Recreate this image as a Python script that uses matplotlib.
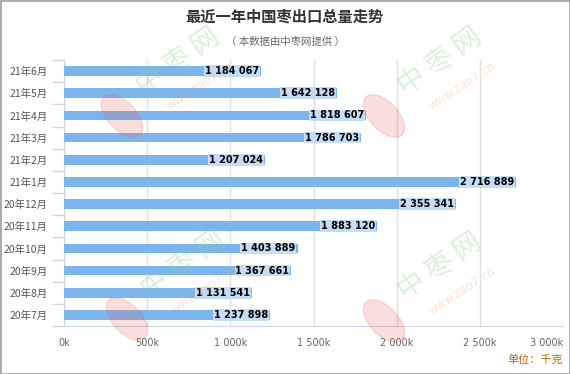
import matplotlib
matplotlib.use("Agg")
import matplotlib.pyplot as plt
from matplotlib.patches import Ellipse, Rectangle
from matplotlib.ticker import FuncFormatter

plt.rcParams['font.family'] = ['Noto Sans CJK SC', 'DejaVu Sans']

# data, top to bottom as shown
months = ["21年6月", "21年5月", "21年4月", "21年3月", "21年2月", "21年1月",
          "20年12月", "20年11月", "20年10月", "20年9月", "20年8月", "20年7月"]
export_kg = [1184067, 1642128, 1818607, 1786703, 1207024, 2716889,
             2355341, 1883120, 1403889, 1367661, 1131541, 1237898]
x_ticks = [0, 500000, 1000000, 1500000, 2000000, 2500000, 3000000]

W, H = 570, 374
fig = plt.figure(figsize=(W / 100, H / 100), dpi=100)

# watermarks (drawn first, behind everything)
for cx, cy in [(178, 62), (440, 62), (183, 265), (440, 267)]:
    fig.text(cx / W, 1 - cy / H, "中 枣 网", fontsize=20, color="#8fcf93", alpha=0.32,
             rotation=35, ha="center", va="center")
    fig.text((cx + 22) / W, 1 - (cy + 24) / H, "www.zao7.cn", fontsize=8.5,
             family="DejaVu Sans", color="#f5a06a", alpha=0.3, rotation=33,
             ha="center", va="center")
    fig.patches.append(Ellipse(((cx - 56) / W, 1 - (cy + 54) / H), 32 / W, 46 / H,
                               angle=25, transform=fig.transFigure,
                               color="#e85a5a", alpha=0.2, zorder=0))

left, right, top, bottom = 64, 563, 60, 326
ax = fig.add_axes([left / W, 1 - bottom / H, (right - left) / W, (bottom - top) / H])
ax.patch.set_alpha(0)

ypos = list(range(len(months)))
ax.barh(ypos, export_kg, height=0.44, color="#7cb5ec", zorder=3)
ax.set_xlim(0, 3000000)
ax.set_ylim(len(months) - 0.5, -0.5)

for y, v in zip(ypos, export_kg):
    ax.text(v - 12000, y, f"{v:,}".replace(",", " "), ha="right", va="center",
            fontsize=7, fontweight="bold", family="DejaVu Sans", color="#000000",
            zorder=4, bbox=dict(facecolor="#c4dcf4", edgecolor="none", pad=0.6))

ax.set_xticks(x_ticks)
ax.xaxis.set_major_formatter(FuncFormatter(lambda v, p: f"{int(v / 1000):,}k".replace(",", " ")))
ax.grid(axis="x", color="#e0e0e0", linewidth=1, zorder=1)
ax.tick_params(axis="x", length=0, pad=9, labelsize=7, labelcolor="#666666")
for lb in ax.get_xticklabels():
    lb.set_family("DejaVu Sans")
ax.get_xticklabels()[-1].set_ha("right")

ax.set_yticks(ypos)
ax.set_yticklabels(months)
ax.set_yticks([y + 0.5 for y in [-1] + ypos], minor=True)
ax.tick_params(axis="y", which="major", length=0, pad=12, labelsize=7.5, labelcolor="#555555")
ax.tick_params(axis="y", which="minor", length=9, color="#ccd6eb", width=1)

for s in ["top", "right"]:
    ax.spines[s].set_visible(False)
ax.spines["left"].set_color("#ccd6eb")
ax.spines["bottom"].set_color("#ccd6eb")

fig.text(0.5, 1 - 17 / H, "最近一年中国枣出口总量走势", ha="center", va="center",
         fontsize=11, fontweight="bold", color="#333333")
fig.text(0.5, 1 - 42 / H, "（ 本数据由中枣网提供 ）", ha="center", va="center",
         fontsize=7.5, color="#666666")
fig.text(563 / W, 1 - 360 / H, "单位：千克", ha="right", va="center",
         fontsize=8, color="#cc6600")

fig.patches.append(Rectangle((0, 0), 1, 1, transform=fig.transFigure, fill=False,
                             edgecolor="#a8a8a8", linewidth=2, zorder=10))

fig.savefig("out.png", dpi=100)
